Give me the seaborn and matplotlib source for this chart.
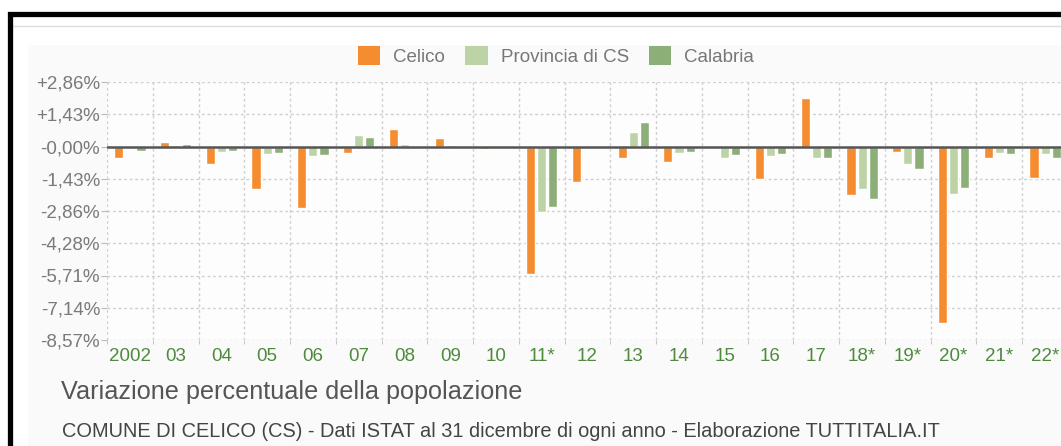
import numpy as np
import pandas as pd
import matplotlib
matplotlib.use("Agg")
import matplotlib.pyplot as plt
from matplotlib.patches import Patch, Rectangle
from matplotlib.lines import Line2D
import seaborn as sns

# data (percent change per year)
anni = ["2002", "03", "04", "05", "06", "07", "08", "09", "10", "11*", "12",
        "13", "14", "15", "16", "17", "18*", "19*", "20*", "21*", "22*"]
celico = [-0.49, 0.22, -0.77, -1.87, -2.71, -0.28, 0.77, 0.36, -0.10, -5.63, -1.56,
          -0.53, -0.70, -0.04, -1.45, 2.13, -2.13, -0.23, -7.82, -0.49, -1.39]
provincia = [-0.07, 0.06, -0.25, -0.34, -0.43, 0.53, 0.12, 0.07, -0.03, -2.90, -0.02,
             0.65, -0.30, -0.49, -0.43, -0.49, -1.90, -0.78, -2.12, -0.27, -0.35]
calabria = [-0.18, 0.12, -0.18, -0.28, -0.37, 0.43, -0.03, -0.02, -0.03, -2.68, -0.02,
            1.08, -0.24, -0.36, -0.33, -0.49, -2.34, -0.99, -1.82, -0.34, -0.53]
aree = ["Celico", "Provincia di CS", "Calabria"]
colori = ["#f58c30", "#bcd3a6", "#8caf78"]

# y ticks are multiples of 10/7, labels truncated to two decimals
y_ticks = [k * 10 / 7 for k in range(-6, 3)]
y_labels = ["-8,57%", "-7,14%", "-5,71%", "-4,28%", "-2,86%", "-1,43%", "-0,00%", "+1,43%", "+2,86%"]

df = pd.DataFrame({
    "anno": anni * 3,
    "variazione": celico + provincia + calabria,
    "area": [a for a in aree for _ in anni],
})

sns.set_style("white")
plt.rcParams["font.family"] = ["Liberation Sans", "DejaVu Sans"]

W, H = 1061, 446
fig = plt.figure(figsize=(W / 100, H / 100), dpi=100)

# outer frame and faint panel background
fig.patches.append(Rectangle((28 / W, 0), 1, 1 - 45 / H, transform=fig.transFigure,
                             facecolor="#fafafa", edgecolor="none", zorder=-5))
fig.patches.append(Rectangle((9.5 / W, -0.1), 1.2, 1.1 - 14.5 / H, transform=fig.transFigure,
                             facecolor="none", edgecolor="black", lw=3.8, zorder=5))
fig.lines.append(Line2D([12 / W, 1], [1 - 26 / H, 1 - 26 / H], transform=fig.transFigure,
                        color="#dddddd", lw=1, zorder=-4))

left, right, top, bottom = 107, 1068, 82, 340
ax = fig.add_axes([left / W, 1 - bottom / H, (right - left) / W, (bottom - top) / H])
ax.set_facecolor("#fdfdfd")

sns.barplot(data=df, x="anno", y="variazione", hue="area", palette=colori,
            width=0.73, gap=0.18, ax=ax, legend=False, saturation=1, zorder=3)

ax.set_xlim(-0.5, len(anni) - 0.5)
ax.set_ylim(y_ticks[0], y_ticks[-1])
ax.set_yticks(y_ticks)
ax.set_yticklabels(y_labels)
ax.set_xticks(np.arange(-0.5, len(anni), 1.0), minor=True)
ax.set_xlabel("")
ax.set_ylabel("")

ax.grid(True, axis="y", color="#cfcfcf", linestyle=(0, (2, 2)), lw=1, zorder=0)
ax.grid(True, axis="x", which="minor", color="#cfcfcf", linestyle=(0, (2, 2)), lw=1, zorder=0)
ax.axhline(0, color="#555555", lw=1.8, zorder=4)
for s in ax.spines.values():
    s.set_visible(False)

ax.tick_params(axis="y", which="major", left=True, length=4, color="#bbbbbb",
               labelsize=13.5, labelcolor="#7a7a7a", pad=1)
ax.tick_params(axis="x", which="major", bottom=False, labelsize=13.5,
               labelcolor="#4e8a3e", pad=2)
ax.tick_params(axis="x", which="minor", bottom=True, length=3, color="#bbbbbb")

handles = [Patch(facecolor=c, edgecolor="none") for c in colori]
fig.legend(handles, aree, loc="center", bbox_to_anchor=(556 / W, 1 - 56 / H), ncol=3,
           frameon=False, fontsize=13.5, labelcolor="#777777", handlelength=1.2,
           handleheight=1.2, handletextpad=0.7, columnspacing=1.05)

fig.text(61 / W, 1 - 399 / H, "Variazione percentuale della popolazione",
         fontsize=18.2, color="#555555", va="baseline", ha="left")
fig.text(62 / W, 1 - 437 / H,
         "COMUNE DI CELICO (CS) - Dati ISTAT al 31 dicembre di ogni anno - Elaborazione TUTTITALIA.IT",
         fontsize=14.4, color="#444444", va="baseline", ha="left")

fig.savefig("out.png", dpi=100)
